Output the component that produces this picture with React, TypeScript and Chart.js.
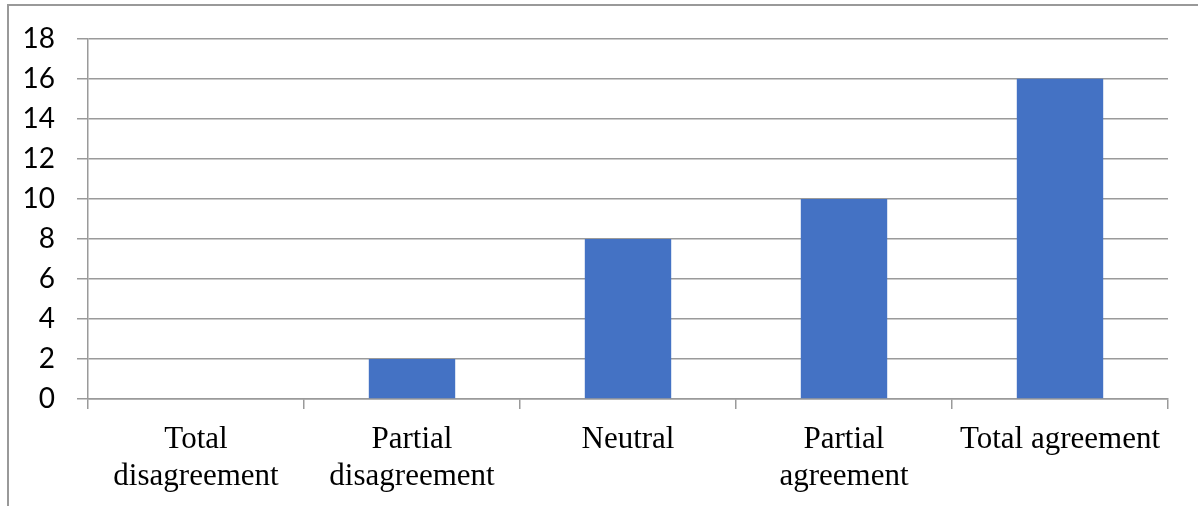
import React, { useEffect, useRef } from "react";
import { Chart, registerables } from "chart.js";

Chart.register(...registerables);

const categories: string[][] = [
  ["Total", "disagreement"],
  ["Partial", "disagreement"],
  ["Neutral"],
  ["Partial", "agreement"],
  ["Total agreement"],
];
const values: number[] = [0, 2, 8, 10, 16];
const yMin = 0;
const yMax = 18;
const yStep = 2;

export default function App() {
  const ref = useRef<HTMLCanvasElement | null>(null);

  useEffect(() => {
    if (!ref.current) return;
    const gridColor = "#9a9a9a";
    const chart = new Chart(ref.current, {
      type: "bar",
      data: {
        labels: categories,
        datasets: [
          {
            data: values,
            backgroundColor: "#4472C4",
            borderWidth: 0,
            barPercentage: 0.4,
            categoryPercentage: 1,
          },
        ],
      },
      options: {
        responsive: false,
        animation: false,
        layout: { padding: { left: 0, right: 30, top: 36, bottom: 0 } },
        plugins: { legend: { display: false }, tooltip: { enabled: false } },
        scales: {
          x: {
            offset: true,
            grid: {
              offset: true,
              drawOnChartArea: false,
              drawTicks: true,
              tickLength: 10,
              color: gridColor,
              lineWidth: 1.5,
            },
            border: { display: true, color: gridColor, width: 1.5 },
            ticks: {
              color: "#000",
              padding: 12,
              maxRotation: 0,
              autoSkip: false,
              font: { family: "'Liberation Serif', 'Times New Roman', serif", size: 31, lineHeight: 1.2 },
            },
            afterFit: (scale: any) => {
              scale.height = 107;
            },
          },
          y: {
            min: yMin,
            max: yMax,
            grid: {
              color: gridColor,
              lineWidth: 1.5,
              drawTicks: true,
              tickLength: 11,
            },
            border: { display: true, color: gridColor, width: 1.5 },
            ticks: {
              stepSize: yStep,
              color: "#000",
              padding: 22,
              font: { family: "Lato, 'Noto Sans', sans-serif", size: 28 },
            },
            afterFit: (scale: any) => {
              scale.width = 88;
            },
          },
        },
      },
    });
    return () => chart.destroy();
  }, []);

  return (
    <div>
      <div
        style={{
          position: "fixed",
          left: 7,
          top: 4,
          width: 1400,
          height: 700,
          borderLeft: "2px solid #999",
          borderTop: "2px solid #999",
        }}
      />
      <canvas
        ref={ref}
        width={1198}
        height={506}
        style={{ position: "fixed", left: 0, top: 0, width: 1198, height: 506 }}
      />
    </div>
  );
}
